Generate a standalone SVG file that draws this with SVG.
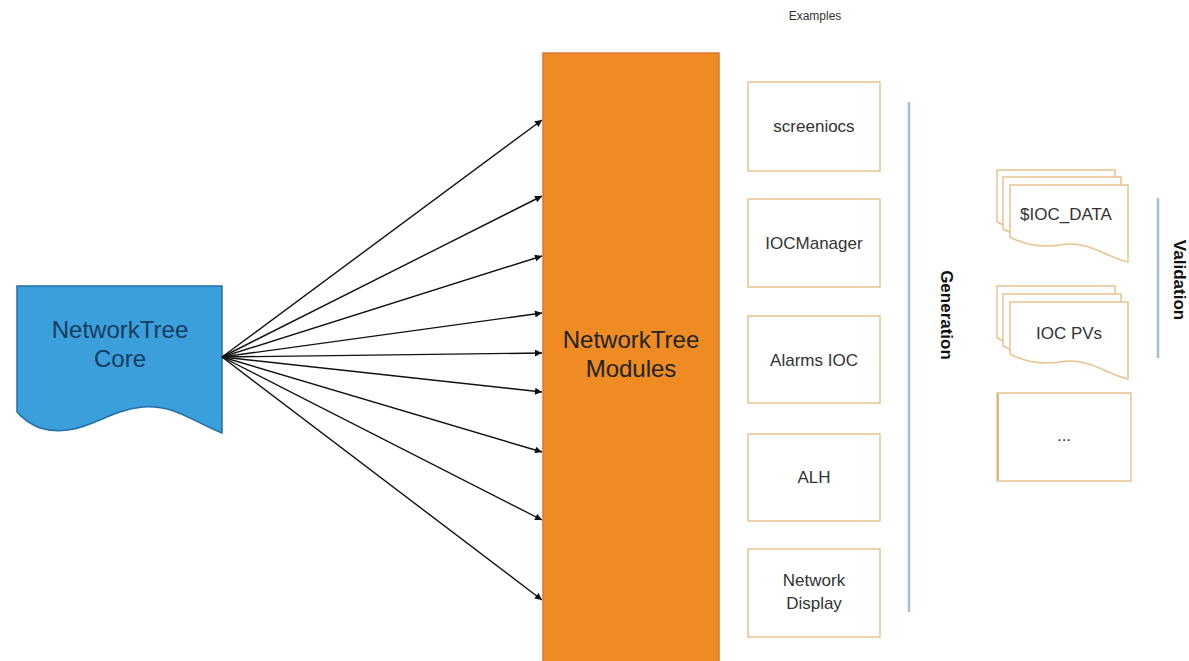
<svg xmlns="http://www.w3.org/2000/svg" width="1189" height="661" viewBox="0 0 1189 661">
<style>
.ex{fill:#fff;stroke:#E6C48E;stroke-width:1.5}
.doc{fill:#fff;stroke:#E6C48E;stroke-width:1.5}
.t{font-family:"Liberation Sans",Arial,sans-serif;font-size:17px;fill:#333;text-anchor:middle}
.big{font-family:"Liberation Sans",Arial,sans-serif;font-size:24px;text-anchor:middle}
.conn line{stroke:#111;stroke-width:1.4;marker-end:url(#ah)}
.sep{stroke:#A8BDD2;stroke-width:2.5}
.rot{font-family:"Liberation Sans",Arial,sans-serif;font-size:17px;font-weight:bold;fill:#111;text-anchor:middle}
</style>
<defs>
<marker id="ah" viewBox="0 0 10 10" refX="10" refY="5" markerWidth="9" markerHeight="7" markerUnits="userSpaceOnUse" orient="auto">
<path d="M0,0 L10,5 L0,10 z" fill="#111"/>
</marker>
<path id="docshape" d="M0,0 H118 V77 C95,72 80,55 50,60 C30,63 15,60 0,52 Z"/>
</defs>
<rect width="1189" height="661" fill="#fff"/>
<text x="815" y="20" font-family="Liberation Sans,Arial,sans-serif" font-size="12" fill="#333" text-anchor="middle">Examples</text>

<g id="core">
<path d="M17,286 H222 V433 C190,420 175,405 143,407 C105,410 80,440 40,428 C30,424 22,418 17,412 Z" fill="#3A9FDB" stroke="#2270A5" stroke-width="1.5"/>
<text class="big" x="120" y="338" fill="#173A5E">NetworkTree</text>
<text class="big" x="120" y="367" fill="#173A5E">Core</text>
</g>

<g id="connectors" class="conn">
<line x1="222" y1="357" x2="542" y2="120"/>
<line x1="222" y1="357" x2="542" y2="196"/>
<line x1="222" y1="357" x2="542" y2="256"/>
<line x1="222" y1="357" x2="542" y2="313"/>
<line x1="222" y1="357" x2="542" y2="353"/>
<line x1="222" y1="357" x2="542" y2="392"/>
<line x1="222" y1="357" x2="542" y2="452"/>
<line x1="222" y1="357" x2="542" y2="520"/>
<line x1="222" y1="357" x2="542" y2="600"/>
</g>

<g id="modules">
<rect x="543" y="53" width="176" height="615" fill="#EE8B22" stroke="#D9773A" stroke-width="1.5"/>
<text class="big" x="631" y="348" fill="#222">NetworkTree</text>
<text class="big" x="631" y="377" fill="#222">Modules</text>
</g>

<g id="screeniocs"><rect class="ex" x="748" y="82" width="132" height="89"/><text class="t" x="814" y="132">screeniocs</text></g>
<g id="iocmanager"><rect class="ex" x="748" y="199" width="132" height="88"/><text class="t" x="814" y="249">IOCManager</text></g>
<g id="alarms"><rect class="ex" x="748" y="316" width="132" height="87"/><text class="t" x="814" y="366">Alarms IOC</text></g>
<g id="alh"><rect class="ex" x="748" y="434" width="132" height="87"/><text class="t" x="814" y="483">ALH</text></g>
<g id="netdisplay"><rect class="ex" x="748" y="549" width="132" height="88"/><text class="t" x="814" y="586">Network</text><text class="t" x="814" y="609">Display</text></g>

<g id="generation">
<line class="sep" x1="909" y1="102" x2="909" y2="612"/>
<text class="rot" transform="translate(941,315) rotate(90)">Generation</text>
</g>

<g id="iocdata">
<use href="#docshape" class="doc" x="997" y="170"/>
<use href="#docshape" class="doc" x="1003" y="177"/>
<use href="#docshape" class="doc" x="1010" y="185"/>
<text class="t" x="1066" y="220">$IOC_DATA</text>
</g>

<g id="iocpvs">
<use href="#docshape" class="doc" x="997" y="286"/>
<use href="#docshape" class="doc" x="1003" y="294"/>
<use href="#docshape" class="doc" x="1010" y="302"/>
<text class="t" x="1069" y="339">IOC PVs</text>
</g>

<g id="more">
<rect class="ex" x="997" y="393" width="134" height="88"/>
<line x1="998" y1="394" x2="998" y2="480" stroke="#D9B984" stroke-width="2"/>
<text class="t" x="1064" y="441" font-size="12">...</text>
</g>

<g id="validation">
<line class="sep" x1="1158" y1="198" x2="1158" y2="358"/>
<text class="rot" transform="translate(1174,280) rotate(90)" font-size="18">Validation</text>
</g>
</svg>
